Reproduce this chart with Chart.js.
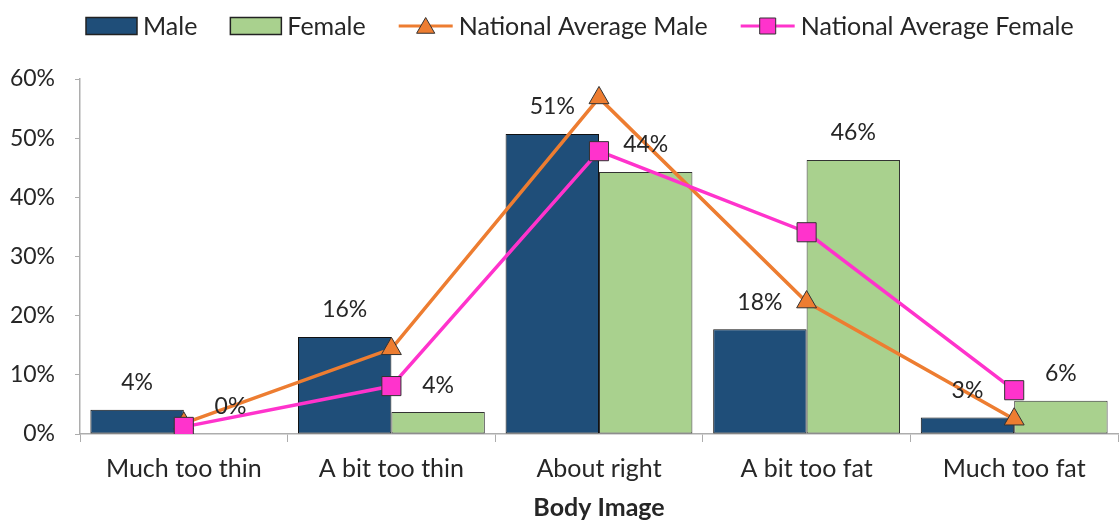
<!DOCTYPE html>
<html><head><meta charset="utf-8">
<script src="https://cdn.jsdelivr.net/npm/chart.js@4/dist/chart.umd.min.js"></script>
<style>html,body{margin:0;padding:0;background:#fff}#wrap{width:1119px;height:520px}</style>
</head><body><div id="wrap"><canvas id="c" width="1119" height="520"></canvas></div>
<script>
const categories = ['Much too thin', 'A bit too thin', 'About right', 'A bit too fat', 'Much too fat'];
const maleValues = [4.1, 16.4, 50.7, 17.7, 2.8];
const femaleValues = [0.0, 3.7, 44.3, 46.3, 5.6];
const natAvgMale = [1.8, 14.4, 56.8, 22.3, 2.5];
const natAvgFemale = [1.2, 8.1, 47.8, 34.1, 7.4];
const yTickValues = [0, 10, 20, 30, 40, 50, 60];
const seriesNames = ['Male', 'Female', 'National Average Male', 'National Average Female'];
const axisTitle = 'Body Image';

const FONT = 'Lato';
const FS = 25;
const FN = 23;
const TXT = '#262626';
const AXIS = '#ADADAD';
const C_MALE = '#1F4E79', C_FEM = '#A9D18E', C_NAM = '#ED7D31', C_NAF = '#FF33CC';

const legendPlugin = {
  id: 'customLegend',
  afterDraw(chart) {
    const ctx = chart.ctx;
    ctx.save();
    ctx.font = FS + 'px ' + FONT;
    ctx.textBaseline = 'middle';
    ctx.textAlign = 'left';
    let x = 86; const y = 26;
    chart.data.datasets.forEach((ds, i) => {
      if (ds.type === 'bar') {
        ctx.fillStyle = ds.backgroundColor; ctx.strokeStyle = '#222'; ctx.lineWidth = 1.5;
        ctx.fillRect(x, y - 8.5, 51, 17); ctx.strokeRect(x, y - 8.5, 51, 17);
        x += 57;
      } else {
        ctx.strokeStyle = ds.borderColor; ctx.lineWidth = 3;
        ctx.beginPath(); ctx.moveTo(x, y); ctx.lineTo(x + 54, y); ctx.stroke();
        const cx = x + 27;
        ctx.fillStyle = ds.pointBackgroundColor; ctx.strokeStyle = '#333'; ctx.lineWidth = 1;
        ctx.beginPath();
        if (ds.pointStyle === 'triangle') {
          const r = ds.pointRadius - 1;
          ctx.moveTo(cx, y + 2 - r); ctx.lineTo(cx + r * 0.866, y + 2 + r / 2); ctx.lineTo(cx - r * 0.866, y + 2 + r / 2); ctx.closePath();
        } else {
          ctx.rect(cx - 8, y - 8, 16, 16);
        }
        ctx.fill(); ctx.stroke();
        x += 60;
      }
      ctx.fillStyle = TXT;
      ctx.fillText(ds.label, x, y + 1);
      x += ctx.measureText(ds.label).width + 33;
    });
    ctx.restore();
  }
};

const labelPlugin = {
  id: 'barLabels',
  afterDatasetsDraw(chart) {
    const ctx = chart.ctx;
    ctx.save();
    ctx.font = FN + 'px ' + FONT;
    ctx.fillStyle = TXT; ctx.textAlign = 'center'; ctx.textBaseline = 'middle';
    chart.data.datasets.forEach((ds, i) => {
      if (ds.type !== 'bar') return;
      chart.getDatasetMeta(i).data.forEach((el, j) => {
        ctx.fillText(Math.round(ds.data[j]) + '%', el.x, el.y - 27);
      });
    });
    ctx.restore();
  }
};

new Chart(document.getElementById('c'), {
  data: {
    labels: categories,
    datasets: [
      {type: 'bar', label: seriesNames[0], data: maleValues, backgroundColor: C_MALE, borderColor: '#111', borderWidth: 1, borderSkipped: false,
        categoryPercentage: 0.9, barPercentage: 1.0, order: 2},
      {type: 'bar', label: seriesNames[1], data: femaleValues, backgroundColor: C_FEM, borderColor: '#333', borderWidth: 1, borderSkipped: false,
        categoryPercentage: 0.9, barPercentage: 1.0, order: 3},
      {type: 'line', label: seriesNames[2], data: natAvgMale, borderColor: C_NAM, borderWidth: 3.5,
        pointStyle: 'triangle', pointRadius: 11.5, pointBackgroundColor: C_NAM, pointBorderColor: '#333', pointBorderWidth: 1, order: 1},
      {type: 'line', label: seriesNames[3], data: natAvgFemale, borderColor: C_NAF, borderWidth: 3.5,
        pointStyle: 'rect', pointRadius: 13.5, pointBackgroundColor: C_NAF, pointBorderColor: '#333', pointBorderWidth: 1, order: 0}
    ]
  },
  options: {
    responsive: false, animation: false, devicePixelRatio: 1,
    layout: {autoPadding: false, padding: {top: 79, right: 1, left: 0, bottom: 0}},
    plugins: {legend: {display: false}, tooltip: {enabled: false}},
    scales: {
      x: {
        grid: {offset: true, drawOnChartArea: false, drawTicks: true, tickLength: 8, color: AXIS},
        border: {color: AXIS, width: 1.5},
        ticks: {font: {family: FONT, size: FS}, color: TXT, padding: 12},
        title: {display: true, text: axisTitle, color: TXT, font: {family: FONT, size: FS, weight: 'bold', lineHeight: 1}, padding: {top: 0, bottom: 0}},
        afterFit(s) { s.height = 86; }
      },
      y: {
        min: 0, max: 60,
        afterBuildTicks(s) { s.ticks = yTickValues.map(v => ({value: v})); },
        grid: {drawOnChartArea: false, drawTicks: true, tickLength: 5, color: AXIS},
        border: {color: AXIS, width: 1.5},
        ticks: {font: {family: FONT, size: FN}, color: TXT, padding: 20, callback: v => v + '%'},
        afterFit(s) { s.width = 80; }
      }
    }
  },
  plugins: [legendPlugin, labelPlugin]
});
</script></body></html>
